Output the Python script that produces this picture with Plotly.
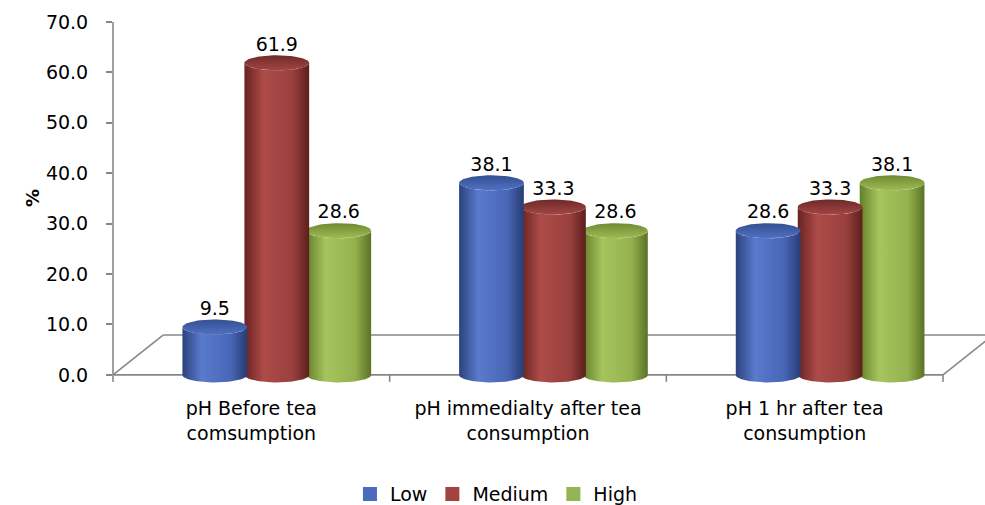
import numpy as np
import plotly.graph_objects as go

# ---- data -------------------------------------------------------------
categories = [
    "pH Before tea<br>comsumption",
    "pH immedialty after tea<br>consumption",
    "pH 1 hr after tea<br>consumption",
]
series_names = ["Low", "Medium", "High"]
low = [9.5, 38.1, 28.6]
medium = [61.9, 33.3, 33.3]
high = [28.6, 28.6, 38.1]
y_ticks = [0, 10, 20, 30, 40, 50, 60, 70]
y_tick_labels = ["0.0", "10.0", "20.0", "30.0", "40.0", "50.0", "60.0", "70.0"]

# ---- styling ----------------------------------------------------------
FONT = "DejaVu Sans"
FS = 19
AXIS_GREY = "#878787"
X_MIN, X_MAX = -0.5, 2.5
Y_MIN, Y_MAX = -2.6, 70
BAR_STEP = 0.224        # distance between neighbouring cylinders in a group
DEPTH_SHIFT = 0.092     # cylinders sit slightly right of the category centre
RX = 0.117              # cylinder half-width (x units)
RY = 1.5                # ellipse half-height (y units)
FLOOR_DX, FLOOR_DY = 0.181, 7.9

body_scales = {
    "Low": [[0, "#2b427c"], [0.3, "#5a7acd"], [0.75, "#4866b6"], [1, "#283c73"]],
    "Medium": [[0, "#682321"], [0.3, "#ad4b48"], [0.75, "#99403d"], [1, "#5c1f1d"]],
    "High": [[0, "#64802a"], [0.3, "#a7c55e"], [0.75, "#93b14d"], [1, "#5b7225"]],
}
cap_scales = {
    "Low": [[0, "#5070c4"], [1, "#34508f"]],
    "Medium": [[0, "#a24644"], [1, "#6f2a28"]],
    "High": [[0, "#9dbb55"], [1, "#6f8a31"]],
}
legend_colors = {"Low": "#4b6cbe", "Medium": "#a3423f", "High": "#93b452"}

values = {"Low": low, "Medium": medium, "High": high}
offsets = {"Low": -BAR_STEP, "Medium": 0.0, "High": BAR_STEP}


def xd(x):
    return (x - X_MIN) / (X_MAX - X_MIN)


def yd(y):
    return (y - Y_MIN) / (Y_MAX - Y_MIN)


def cylinder_body(cx, top):
    t = np.linspace(np.pi, 2 * np.pi, 48)
    bx = cx + RX * np.cos(t)
    by = RY * np.sin(t)
    xs = np.concatenate([bx, bx[::-1], bx[:1]])
    ys = np.concatenate([by, top + by[::-1], by[:1]])
    return xs, ys


def cylinder_cap(cx, top):
    t = np.linspace(0, 2 * np.pi, 72)
    return cx + RX * np.cos(t), top + RY * np.sin(t)


fig = go.Figure()

# cylinders: right-hand ones first so the left ones overlap them
for gi in range(len(categories)):
    for name in reversed(series_names):
        v = values[name][gi]
        cx = gi + DEPTH_SHIFT + offsets[name]
        bx, by = cylinder_body(cx, v)
        fig.add_trace(go.Scatter(
            x=bx, y=by, mode="lines", line=dict(width=0), fill="toself",
            fillgradient=dict(type="horizontal", colorscale=body_scales[name]),
            hoverinfo="skip", showlegend=False))
        tx, ty = cylinder_cap(cx, v)
        fig.add_trace(go.Scatter(
            x=tx, y=ty, mode="lines", line=dict(width=0), fill="toself",
            fillgradient=dict(type="vertical", colorscale=cap_scales[name]),
            hoverinfo="skip", showlegend=False))

# value labels
for name in series_names:
    vals = values[name]
    fig.add_trace(go.Scatter(
        x=[gi + DEPTH_SHIFT + offsets[name] for gi in range(len(vals))],
        y=[v + RY for v in vals],
        mode="text", text=[f"{v:.1f}" for v in vals],
        textposition="top center", cliponaxis=False,
        textfont=dict(family=FONT, size=FS, color="#000000"),
        hoverinfo="skip", showlegend=False))

# legend entries
for name in series_names:
    fig.add_trace(go.Scatter(
        x=[None], y=[None], mode="markers", name=name,
        marker=dict(symbol="square", size=14, color=legend_colors[name])))

# floor, value axis line and category boundary ticks
line_style = dict(color=AXIS_GREY, width=1.6)
segments = [
    ((X_MIN, 0), (X_MAX, 0)),
    ((X_MIN + FLOOR_DX, FLOOR_DY), (X_MAX + FLOOR_DX, FLOOR_DY)),
    ((X_MIN, 0), (X_MIN + FLOOR_DX, FLOOR_DY)),
    ((X_MAX, 0), (X_MAX + FLOOR_DX, FLOOR_DY)),
    ((X_MIN, 0), (X_MIN, Y_MAX)),
]
for b in np.arange(X_MIN, X_MAX + 0.01, 1.0):
    segments.append(((b, 0), (b, -1.4)))
shapes = [
    dict(type="line", xref="x domain", yref="y domain", layer="below",
         x0=xd(p[0]), y0=yd(p[1]), x1=xd(q[0]), y1=yd(q[1]), line=line_style)
    for p, q in segments
]

fig.update_layout(
    width=985, height=505,
    margin=dict(l=113, r=42, t=22, b=117, autoexpand=False),
    paper_bgcolor="white", plot_bgcolor="white",
    font=dict(family=FONT, size=FS, color="#000000"),
    shapes=shapes,
    showlegend=True,
    legend=dict(orientation="h", x=0.462, xanchor="center", y=-0.29,
                yanchor="middle", font=dict(family=FONT, size=FS),
                itemwidth=30, bgcolor="rgba(0,0,0,0)"),
    annotations=[dict(text="<b>%</b>", xref="paper", yref="paper",
                      x=-0.112, y=0.518, textangle=-90, showarrow=False,
                      font=dict(family=FONT, size=18, color="#000000"))],
)
fig.update_xaxes(range=[X_MIN, X_MAX], tickvals=list(range(len(categories))),
                 ticktext=categories, ticks="", showline=False, showgrid=False,
                 zeroline=False, ticklabelstandoff=7, automargin=False)
fig.update_yaxes(range=[Y_MIN, Y_MAX], tickvals=y_ticks, ticktext=y_tick_labels,
                 ticks="outside", ticklen=6, tickwidth=1.6, tickcolor=AXIS_GREY,
                 showline=False, showgrid=False, zeroline=False,
                 ticklabelstandoff=14, automargin=False)

fig.write_html("out.html")
